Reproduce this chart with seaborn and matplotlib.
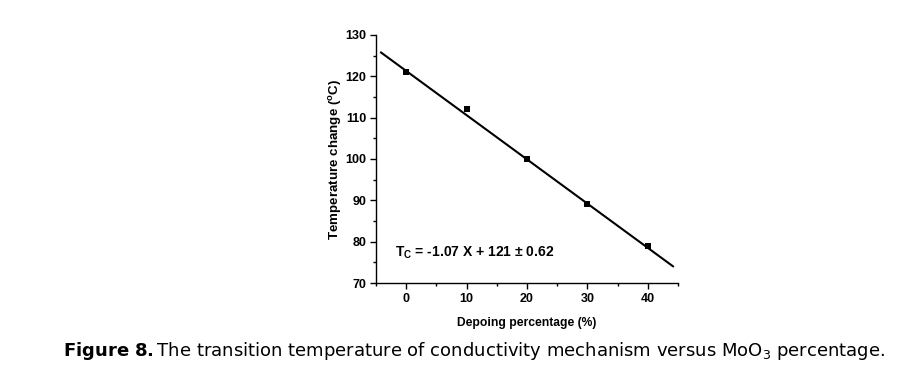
import matplotlib
matplotlib.use("Agg")
import matplotlib.pyplot as plt
import seaborn as sns
import numpy as np
import pandas as pd
from matplotlib.ticker import MultipleLocator

# data
doping = [0, 10, 20, 30, 40]
temperature = [121, 112, 100, 89, 79]
fit_x = [-4.2, 44.2]
fit_slope = -1.07
fit_intercept = 121.3
eq_label = "T$_\\mathregular{C}$ = -1.07 X + 121 ± 0.62"
x_label = "Depoing percentage (%)"
y_label = "Temperature change ($^\\mathregular{o}$C)"
caption_bold = "Figure 8."
caption_rest = "The transition temperature of conductivity mechanism versus MoO$_3$ percentage."

sns.set_theme(style="ticks")
plt.rcParams['font.family'] = ['Liberation Sans Narrow', 'Liberation Sans', 'DejaVu Sans']
for k in ["text.color", "axes.labelcolor", "xtick.color", "ytick.color", "axes.edgecolor"]:
    plt.rcParams[k] = "black"

fig = plt.figure(figsize=(9.23, 3.77), dpi=100)
ax = fig.add_axes([0.4074, 0.2493, 0.3272, 0.6579])

df = pd.DataFrame({"x": doping, "y": temperature})
fit_df = pd.DataFrame({"x": fit_x, "y": [fit_slope * v + fit_intercept for v in fit_x]})
sns.lineplot(data=fit_df, x="x", y="y", ax=ax, color="black", linewidth=1.5)
sns.scatterplot(data=df, x="x", y="y", ax=ax, marker="s", s=20, color="black",
                edgecolor="black", linewidth=0, zorder=3)

ax.set_xlim(-5, 45)
ax.set_ylim(70, 130)
ax.xaxis.set_major_locator(MultipleLocator(10))
ax.xaxis.set_minor_locator(MultipleLocator(5))
ax.yaxis.set_major_locator(MultipleLocator(10))
ax.yaxis.set_minor_locator(MultipleLocator(5))
ax.tick_params(which="major", direction="out", length=4, width=1, labelsize=9, pad=3)
ax.tick_params(which="minor", direction="out", length=2.5, width=1)
for lab in ax.get_xticklabels() + ax.get_yticklabels():
    lab.set_fontweight("bold")
for s in ["top", "right"]:
    ax.spines[s].set_visible(False)
for s in ["left", "bottom"]:
    ax.spines[s].set_linewidth(1)

ax.set_xlabel(x_label, fontsize=8.7, fontweight="bold", labelpad=9)
ax.set_ylabel(y_label, fontsize=9.6, fontweight="bold", labelpad=1)

ax.text(-1.9, 76.3, eq_label, fontsize=10, fontweight="bold", ha="left", va="baseline")

fig.text(0.068, 0.055, r"$\bf{Figure\ 8.}$" + caption_rest, fontsize=13,
         family="DejaVu Sans", ha="left", va="baseline")

fig.savefig("out.png", dpi=100)
